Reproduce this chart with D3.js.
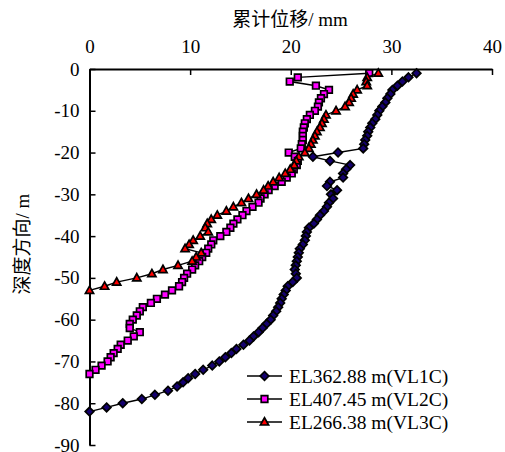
<!DOCTYPE html>
<html><head><meta charset="utf-8">
<script src="https://cdn.jsdelivr.net/npm/d3@7"></script>
<style>html,body{margin:0;padding:0;background:#fff;}</style>
</head><body>
<svg id="c" width="505" height="452"></svg>
<script>
const depths = [-1,-2,-3,-4,-5,-6,-7,-8,-9,-10,-11,-12,-13,-14,-15,-16,-17,-18,-19,-20,
-21,-22,-23,-24,-25,-26,-27,-28,-29,-30,-31,-32,-33,-34,-35,-36,-37,-38,-39,-40,
-41,-42,-43,-44,-45,-46,-47,-48,-49,-50,-51,-52,-53,-54,-55,-56,-57,-58,-59,-60,
-61,-62,-63,-64,-65,-66,-67,-68,-69,-70,-71,-72,-73,-74,-75,-76,-77,-78,-79,-80,-81,-82];

const vl1c = [32.5,31.7,31.1,30.6,30.1,29.9,29.6,29.4,29.1,28.8,28.6,28.4,28.1,27.9,27.7,27.6,27.4,27.3,27.2,24.7,
22.2,23.9,25.9,25.5,25.2,25.2,23.9,23.6,24.6,24.0,24.2,23.8,23.6,23.3,22.9,22.6,22.3,21.8,21.6,21.5,
21.4,21.2,20.9,20.8,20.7,20.6,20.5,20.4,20.5,20.6,20.2,19.7,19.5,19.3,19.1,18.95,18.75,18.55,18.25,18.0,
17.6,17.2,16.8,16.3,15.9,15.3,14.6,14.1,13.5,12.9,12.2,11.3,10.5,9.8,9.3,8.7,7.8,6.5,5.2,3.3,1.7,0];

const vl2c = [27.8,20.7,19.9,22.5,23.8,23.3,23.0,22.8,22.7,22.4,21.9,21.6,21.4,21.3,21.2,21.2,21.2,21.1,21.0,19.8,
20.4,20.7,20.6,20.3,20.1,19.6,19.1,18.4,17.8,17.4,17.0,16.8,16.2,15.6,15.2,14.7,14.3,14.0,13.6,13.0,
12.3,12.1,11.8,11.6,11.2,10.9,10.5,10.2,9.7,9.4,9.2,8.9,8.2,7.5,6.7,6.1,5.3,5.0,4.7,4.3,
4.0,4.0,5.0,4.4,3.8,3.1,2.8,2.4,2.1,1.8,1.2,0.6,0];

const vl3c = [28.7,27.6,27.5,27.6,26.6,26.2,26.0,25.8,25.4,24.5,23.5,23.3,23.1,22.9,22.6,22.4,22.2,22.0,21.8,21.4,
20.8,20.55,20.35,19.95,19.45,18.85,18.25,17.75,17.3,16.6,15.8,15.1,14.3,13.6,12.7,12.1,11.7,11.5,11.8,11.0,
10.3,9.9,9.5,11.1,10.6,10.2,8.8,7.3,6.2,4.7,2.7,1.5,0];

const seriesNames = ["EL362.88 m(VL1C)", "EL407.45 m(VL2C)", "EL266.38 m(VL3C)"];
const xTicks = [0, 10, 20, 30, 40];
const yTicks = [0, -10, -20, -30, -40, -50, -60, -70, -80, -90];
const xTitle = "累计位移", xUnit = "/ mm";
const yTitle = "深度方向", yUnit = "/ m";

const series = [
  {name: seriesNames[0], vals: vl1c, shape: "diamond", fill: "#14006e"},
  {name: seriesNames[1], vals: vl2c, shape: "square", fill: "#ff00ff"},
  {name: seriesNames[2], vals: vl3c, shape: "triangle", fill: "#ff0000"}
];

const svg = d3.select("#c");
const x = d3.scaleLinear().domain([0, 40]).range([89.5, 492]);
const y = d3.scaleLinear().domain([0, -90]).range([69, 445]);
const serif = "'Liberation Serif','Times New Roman',serif";
const cjk = "'Noto Sans CJK SC',sans-serif";

function markerPath(shape) {
  if (shape === "diamond") return "M0,-4.3L4.3,0L0,4.3L-4.3,0Z";
  if (shape === "square") return "M-3.3,-3.3H3.3V3.3H-3.3Z";
  return "M0,-4.3L4.1,3H-4.1Z";
}

// axes
const gx = svg.append("g").attr("transform", `translate(0,${y(0)})`)
  .call(d3.axisTop(x).tickValues(xTicks).tickSizeInner(-6).tickSizeOuter(0).tickPadding(16).tickFormat(d => String(d)));
const gy = svg.append("g").attr("transform", `translate(${x(0)},0)`)
  .call(d3.axisLeft(y).tickValues(yTicks).tickSizeInner(-6).tickSizeOuter(0).tickPadding(10).tickFormat(d => String(d)));
[gx, gy].forEach(g => {
  g.select(".domain").attr("stroke", "#000").attr("stroke-width", 2);
  g.selectAll(".tick line").attr("stroke", "#000").attr("stroke-width", 1.5);
  g.selectAll(".tick text").attr("font-family", serif).attr("font-size", 19).attr("fill", "#000");
});

// series
const line = d3.line().x(d => x(d.v)).y(d => y(d.d));
series.forEach(s => {
  const pts = s.vals.map((v, i) => ({v, d: depths[i]}));
  svg.append("path").datum(pts).attr("d", line)
    .attr("fill", "none").attr("stroke", "#000").attr("stroke-width", 1.4);
  svg.append("g").selectAll("path").data(pts).join("path")
    .attr("transform", d => `translate(${x(d.v)},${y(d.d)})`)
    .attr("d", markerPath(s.shape))
    .attr("fill", s.fill).attr("stroke", "#000").attr("stroke-width", 1.7);
});

// titles
const tx = svg.append("text").attr("x", 290).attr("y", 26).attr("text-anchor", "middle").attr("fill", "#000");
tx.append("tspan").attr("font-family", cjk).attr("font-size", 19).text(xTitle);
tx.append("tspan").attr("font-family", serif).attr("font-size", 19).text(xUnit);

const ty = svg.append("text").attr("transform", "translate(29,244) rotate(-90)").attr("text-anchor", "middle").attr("fill", "#000");
ty.append("tspan").attr("font-family", cjk).attr("font-size", 19).text(yTitle);
ty.append("tspan").attr("font-family", serif).attr("font-size", 19).text(yUnit);

// legend
const legY = [376, 399, 422];
series.forEach((s, i) => {
  const g = svg.append("g").attr("transform", `translate(0,${legY[i]})`);
  g.append("line").attr("x1", 247).attr("x2", 282).attr("y1", 0).attr("y2", 0).attr("stroke", "#000").attr("stroke-width", 1.4);
  g.append("path").attr("transform", "translate(264.5,0)").attr("d", markerPath(s.shape))
    .attr("fill", s.fill).attr("stroke", "#000").attr("stroke-width", 1.7);
  g.append("text").attr("x", 289).attr("y", 0).attr("dy", "0.34em")
    .attr("font-family", serif).attr("font-size", 19.5).attr("fill", "#000").text(s.name);
});
</script>
</body></html>
